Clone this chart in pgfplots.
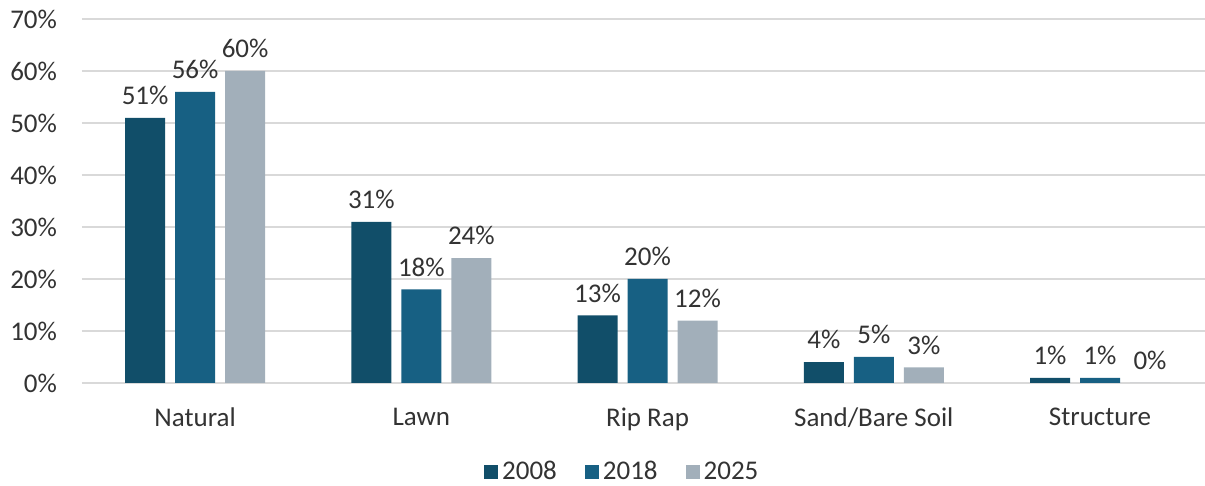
\documentclass[border=0pt]{standalone}
\usepackage{pgfplots}
\pgfplotsset{compat=1.18}
\usepackage{fontspec}
\setmainfont{Carlito}
\definecolor{cA}{HTML}{114E69}
\definecolor{cB}{HTML}{176083}
\definecolor{cC}{HTML}{A2AFBA}
\definecolor{gridc}{HTML}{D9D9D9}
\definecolor{txt}{HTML}{333333}
\begin{document}
\begin{tikzpicture}
\path[use as bounding box] (0,0) rectangle (602.5pt,243pt);
\begin{axis}[
  at={(41pt,51.5pt)}, anchor=south west,
  scale only axis, width=561.5pt, height=182pt,
  ybar=5pt, bar width=20pt,
  xmin=-0.5, xmax=4.464, ymin=0, ymax=70,
  xtick={0,1,2,3,4},
  xticklabels={Natural,Lawn,Rip Rap,Sand/Bare Soil,Structure},
  ytick={0,10,20,30,40,50,60,70},
  yticklabels={0\%,10\%,20\%,30\%,40\%,50\%,60\%,70\%},
  major tick length=0pt,
  ymajorgrids, grid style={gridc, line width=1pt},
  axis x line*=bottom, axis y line*=left,
  y axis line style={draw=none},
  x axis line style={gridc, line width=1pt, -},
  tick label style={font=\fontsize{13.5}{15}\selectfont, text=txt},
  yticklabel style={xshift=-9pt},
  xticklabel style={yshift=-9pt},
  /pgf/number format/assume math mode=true,
  nodes near coords={\pgfmathprintnumber{\pgfplotspointmeta}\%},
  every node near coord/.append style={font=\fontsize{13.5}{15}\selectfont, text=txt, yshift=3pt},
  legend style={at={(0.482,-0.2445)}, anchor=center, legend columns=-1, draw=none,
    font=\fontsize{13.5}{15}\selectfont, text=txt,
    /tikz/every even column/.append style={column sep=12pt}},
  legend image code/.code={\fill[#1] (0pt,-3.5pt) rectangle (7pt,3.5pt);},
]
\addplot[fill=cA, draw=none] coordinates {(0,51) (1,31) (2,13) (3,4) (4,1)};
\addplot[fill=cB, draw=none] coordinates {(0,56) (1,18) (2,20) (3,5) (4,1)};
\addplot[fill=cC, draw=none] coordinates {(0,60) (1,24) (2,12) (3,3) (4,0)};
\legend{2008,2018,2025}
\end{axis}
\end{tikzpicture}
\end{document}
